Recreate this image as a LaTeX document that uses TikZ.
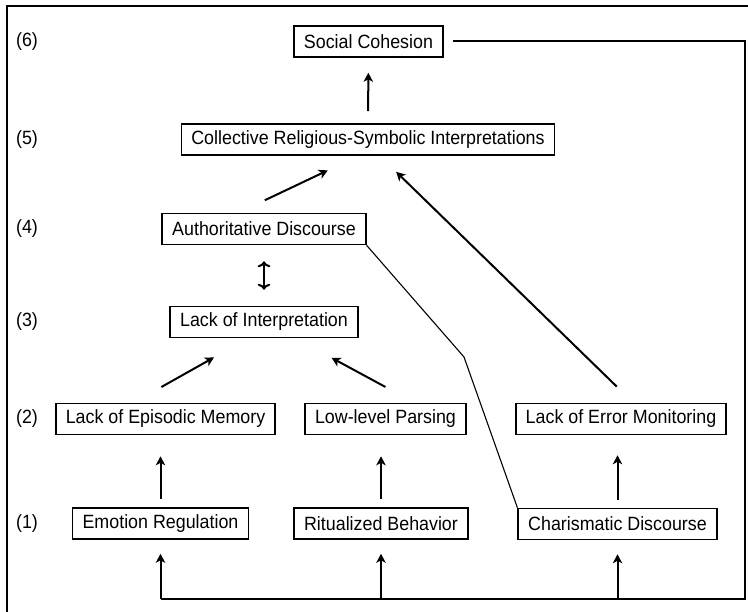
\documentclass[tikz,border=0pt]{standalone}
\usepackage{fontspec}
\setmainfont[FakeStretch=0.93]{Liberation Sans}
\usetikzlibrary{arrows.meta}
\tikzset{box/.style={draw, line width=1.6pt, inner xsep=10pt, inner ysep=0pt, minimum height=31pt, font=\fontsize{19.2}{21}\selectfont},
         lvl/.style={font=\fontsize{19.2}{21}\selectfont},
         arr/.style={line width=2pt, -{Stealth[length=9pt,width=9.5pt,inset=2.5pt]}},
         feed/.style={line width=2pt}}

\begin{document}
\begin{tikzpicture}[x=1pt,y=-1pt]
   \useasboundingbox (0,0) rectangle (748,612);
   \draw[feed, line width=2.4pt] (7,612) -- (7,6) -- (748,6);
   % levels
   \node[lvl] (l6) at (27,41.5) {(6)};
   \node[lvl] (l5) at (27,139.5) {(5)};
   \node[lvl] (l4) at (27,229) {(4)};
   \node[lvl] (l3) at (27,322) {(3)};
   \node[lvl] (l2) at (27,419) {(2)};
   \node[lvl] (l1) at (27,523.5) {(1)};
   % boxes
   \node[box] (sc) at (368.5,41.5) {Social Cohesion};
   \node[box] (crsi) at (368,139.5) {Collective Religious-Symbolic Interpretations};
   \node[box] (ad) at (264,229) {Authoritative Discourse};
   \node[box] (li) at (264,322) {Lack of Interpretation};
   \node[box] (lem) at (165.5,419) {Lack of Episodic Memory};
   \node[box] (llp) at (385.5,419) {Low-level Parsing};
   \node[box] (lemon) at (621,419) {Lack of Error Monitoring};
   \node[box] (er) at (160.5,523.5) {Emotion Regulation};
   \node[box] (rb) at (381,523.5) {Ritualized Behavior};
   \node[box] (cd) at (617.5,524) {Charismatic Discourse};
   % arrows
   \draw[arr, shorten <=12pt, shorten >=15pt] (crsi) -- (sc);
   \draw[arr, <->, shorten <=16pt, shorten >=16pt] (ad) -- (li);
   \draw[arr, shorten <=29pt, shorten >=34pt] ([xshift=-25.4pt]ad.north) -- ([xshift=-9.5pt]crsi.south);
   \draw[arr, shorten <=23pt, shorten >=23pt] ([xshift=12.3pt]lemon.north) -- ([xshift=11.7pt]crsi.south);
   \draw[arr, shorten <=32pt, shorten >=39pt] ([xshift=-32pt]lem.north) -- ([xshift=-16pt]li.south);
   \draw[arr, shorten <=33pt, shorten >=41pt] ([xshift=29pt]llp.north) -- ([xshift=31.5pt]li.south);
   \draw[arr, shorten <=8pt, shorten >=21pt] (er) -- (er |- lem.south);
   \draw[arr, shorten <=8pt, shorten >=21pt] (rb) -- (rb |- llp.south);
   \draw[arr, shorten <=8pt, shorten >=20pt] (cd) -- (cd |- lemon.south);
   % bent line
   \coordinate (bend) at (464,357);
   \draw[line width=1.1pt] (ad.south east) -- (bend) -- (cd.north west);
   % feedback
   \coordinate (fb) at (745,599);
   \draw[feed] ([xshift=9pt]sc.east) -| (fb) -- (er |- fb);
   \draw[arr, shorten >=14pt] (er |- fb) -- (er);
   \draw[arr, shorten >=14pt] (rb |- fb) -- (rb);
   \draw[arr, shorten >=14pt] (cd |- fb) -- (cd);
\end{tikzpicture}
\end{document}
